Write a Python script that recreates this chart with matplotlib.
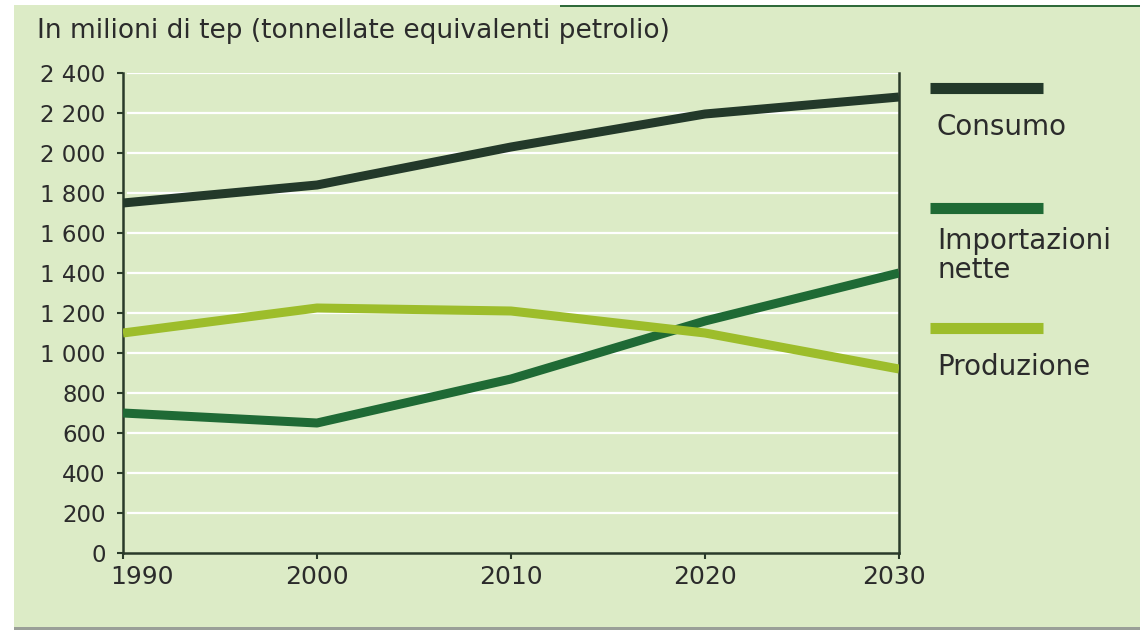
import matplotlib.pyplot as plt
from matplotlib.patches import Rectangle
from matplotlib.lines import Line2D
from matplotlib.ticker import FuncFormatter
from matplotlib.transforms import ScaledTranslation

plt.rcParams['font.family'] = ['DejaVu Sans']

# Data (milioni di tep)
years = [1990, 2000, 2010, 2020, 2030]
consumo = [1750, 1840, 2030, 2195, 2280]
importazioni = [700, 650, 870, 1160, 1400]
produzione = [1100, 1225, 1210, 1100, 920]

series_names = ['Consumo', 'Importazioni\nnette', 'Produzione']
series_colors = ['#23392a', '#1f6a35', '#9dbd2b']

bg = '#dcebc6'
text_col = '#2b2b2b'

W, H = 1140, 630
fig = plt.figure(figsize=(W / 100, H / 100), dpi=100)
fig.patch.set_facecolor('white')

# page background panel
fig.add_artist(Rectangle((14 / W, 3 / H), 1 - 14 / W, 1 - 8 / H,
                         transform=fig.transFigure, facecolor=bg,
                         edgecolor='none', zorder=-10))
fig.add_artist(Rectangle((14 / W, 0), 1 - 14 / W, 3 / H,
                         transform=fig.transFigure, facecolor='#9a9f98',
                         edgecolor='none', zorder=-10))
fig.add_artist(Rectangle((560 / W, 1 - 7 / H), 1 - 560 / W, 2.5 / H,
                         transform=fig.transFigure, facecolor='#2f6a3a',
                         edgecolor='none', zorder=-9))

ax = fig.add_axes([123 / W, 1 - 553 / H, (899 - 123) / W, (553 - 73) / H])
ax.set_facecolor('none')

for vals, c in zip([consumo, importazioni, produzione], series_colors):
    ax.plot(years, vals, color=c, lw=6.5, solid_capstyle='butt',
            solid_joinstyle='round', zorder=3)

ax.set_xlim(1990, 2030)
ax.set_ylim(0, 2400)
ax.set_xticks(years)
ax.set_yticks(range(0, 2401, 200))
ax.yaxis.set_major_formatter(FuncFormatter(lambda v, p: f'{int(v):,}'.replace(',', ' ')))

# white horizontal gridlines
for v in range(200, 2401, 200):
    ax.axhline(v, color='white', lw=1.6, xmin=0.006, xmax=1, zorder=1)

for side in ['left', 'right', 'bottom']:
    ax.spines[side].set_color('#2a3a2a')
    ax.spines[side].set_linewidth(1.8)
ax.spines['top'].set_visible(False)

ax.tick_params(axis='both', colors='#2a3a2a', width=1.5, length=4.5,
               labelcolor=text_col)
ax.tick_params(axis='y', pad=8, labelsize=16.5)
ax.tick_params(axis='x', pad=4, labelsize=18)

# first year label sits to the right of its tick
first = ax.xaxis.get_major_ticks()[0].label1
first.set_transform(first.get_transform() + ScaledTranslation(0.19, 0, fig.dpi_scale_trans))
last = ax.xaxis.get_major_ticks()[-1].label1
last.set_transform(last.get_transform() + ScaledTranslation(-0.05, 0, fig.dpi_scale_trans))

fig.text(37 / W, 1 - 38 / H, 'In milioni di tep (tonnellate equivalenti petrolio)',
         fontsize=19, color=text_col, va='baseline', ha='left')

# legend drawn beside the plot
legend_rows = [(88, [135]), (208, [249, 278]), (328, [375])]
for (ly, ty), name, c in zip(legend_rows, series_names, series_colors):
    fig.add_artist(Line2D([930 / W, 1043 / W], [1 - ly / H, 1 - ly / H],
                          transform=fig.transFigure, color=c, lw=8,
                          solid_capstyle='butt'))
    for line, yy in zip(name.split('\n'), ty):
        fig.text(937 / W, 1 - yy / H, line, fontsize=20, color=text_col,
                 va='baseline', ha='left')

fig.savefig('out.png', dpi=100, facecolor=fig.get_facecolor())
